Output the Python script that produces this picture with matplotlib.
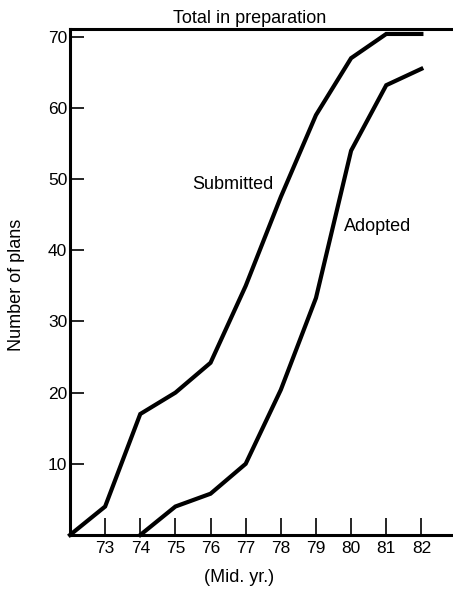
import matplotlib.pyplot as plt

plt.rcParams['font.family'] = ['Liberation Sans', 'DejaVu Sans']

# mid-year values
years = [72, 73, 74, 75, 76, 77, 78, 79, 80, 81, 82]
submitted = [0, 4, 17, 20, 24.2, 35, 47.5, 59, 67, 70.4, 70.4]
adopted_years = [74, 75, 76, 77, 78, 79, 80, 81, 82]
adopted = [0, 4, 5.8, 10, 20.4, 33.3, 54, 63.2, 65.5]
total_in_prep = 71.1

xticks = [73, 74, 75, 76, 77, 78, 79, 80, 81, 82]
yticks = [10, 20, 30, 40, 50, 60, 70]

fig = plt.figure(figsize=(4.53, 5.89), dpi=100)
ax = fig.add_axes([0.1545, 0.0917, 0.8455, 0.8591])

ax.plot(years, submitted, color='black', lw=3, solid_joinstyle='miter', clip_on=False)
ax.plot(adopted_years, adopted, color='black', lw=3, solid_joinstyle='miter', clip_on=False)

ax.set_xlim(72, 82.9)
ax.set_ylim(0, total_in_prep)

ax.spines['right'].set_visible(False)
for s in ['left', 'bottom', 'top']:
    ax.spines[s].set_linewidth(2.2)

ax.set_xticks(xticks)
ax.set_yticks(yticks)
ax.tick_params(axis='both', direction='in', width=1.2, labelsize=12.5, colors='black')
ax.tick_params(axis='x', length=12, pad=4)
ax.tick_params(axis='y', length=10, pad=2)

ax.text(76.62, 49.2, 'Submitted', ha='center', va='center', fontsize=13)
ax.text(80.75, 43.3, 'Adopted', ha='center', va='center', fontsize=13)
ax.text(77.1, 72.6, 'Total in preparation', ha='center', va='center', fontsize=13)

fig.text(17 / 453, 1 - 285 / 589, 'Number of plans', rotation=90,
         ha='center', va='center', fontsize=13)
fig.text(239 / 453, 1 - 578 / 589, '(Mid. yr.)', ha='center', va='center', fontsize=13)

fig.savefig('out.png', dpi=100)
